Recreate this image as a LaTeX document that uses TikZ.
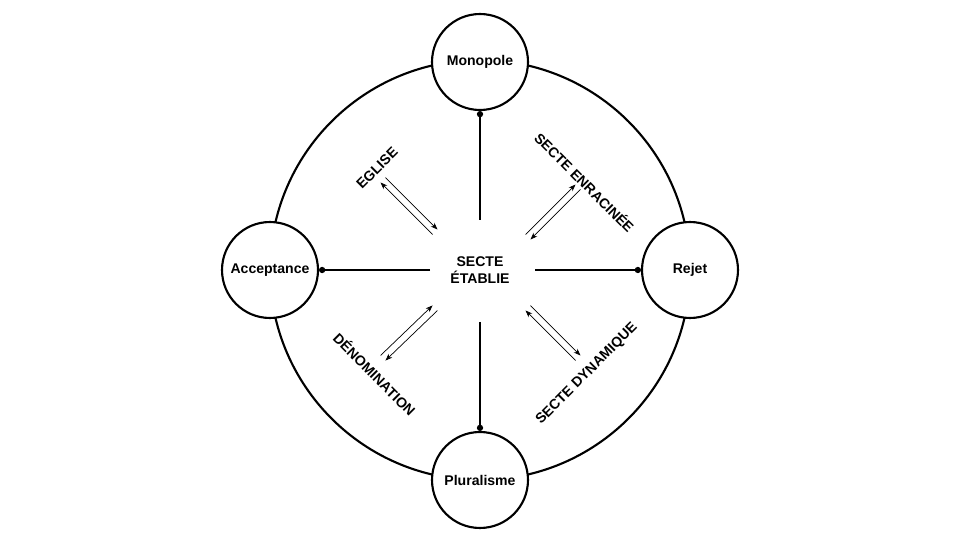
\documentclass[tikz,border=0pt]{standalone}
\usepackage{fontspec}
\setmainfont{Liberation Sans}
\usetikzlibrary{arrows.meta,calc}
\begin{document}
\begin{tikzpicture}[x=0.02cm,y=-0.02cm,line join=round,
  font=\fontsize{8}{9.5}\selectfont\bfseries,
  pole/.style={circle,draw,line width=1.2pt,fill=white,minimum size=1.92cm,inner sep=0pt},
  spoke/.style={line width=1.2pt,-{Circle[length=3.5pt]}},
  pair/.style={line width=0.4pt,-{Stealth[length=4pt]}}]
  \useasboundingbox (0,0) rectangle (960,540);
  \draw[line width=1.2pt] (480,270) circle (210);
  \node[pole] (mono) at (480,62) {Monopole};
  \node[pole] (acc) at (270,270) {Acceptance};
  \node[pole] (rej) at (690,270) {Rejet};
  \node[pole] (plu) at (480,480) {Pluralisme};
  \node[align=center] (sect) at (480,270) {SECTE\\ÉTABLIE};
  \coordinate (n) at (480,220);
  \coordinate (w) at (430,270);
  \coordinate (e) at (535,270);
  \coordinate (s) at (480,322);
  \draw[spoke] (n) -- (mono.south);
  \draw[spoke] (w) -- (acc.east);
  \draw[spoke] (e) -- (rej.west);
  \draw[spoke] (s) -- (plu.north);
  % arrow pairs
  \foreach \ax/\ay/\bx/\by in {383/180/435/232, 578/187/528/237, 383/358/435/308, 578/358/528/308}{
    \coordinate (p) at (\ax,\ay);
    \coordinate (q) at (\bx,\by);
    \draw[pair] ($(p)!2pt!90:(q)$) -- ($(q)!2pt!-90:(p)$);
    \draw[pair] ($(q)!2pt!90:(p)$) -- ($(p)!2pt!-90:(q)$);
  }
  \node[rotate=45] (egl) at (377,168) {EGLISE};
  \node[rotate=-45] (enr) at (585,182) {SECTE ENRACINÉE};
  \node[rotate=-45] (den) at (375,374) {DÉNOMINATION};
  \node[rotate=45] (dyn) at (587,374) {SECTE DYNAMIQUE};
\end{tikzpicture}
\end{document}
